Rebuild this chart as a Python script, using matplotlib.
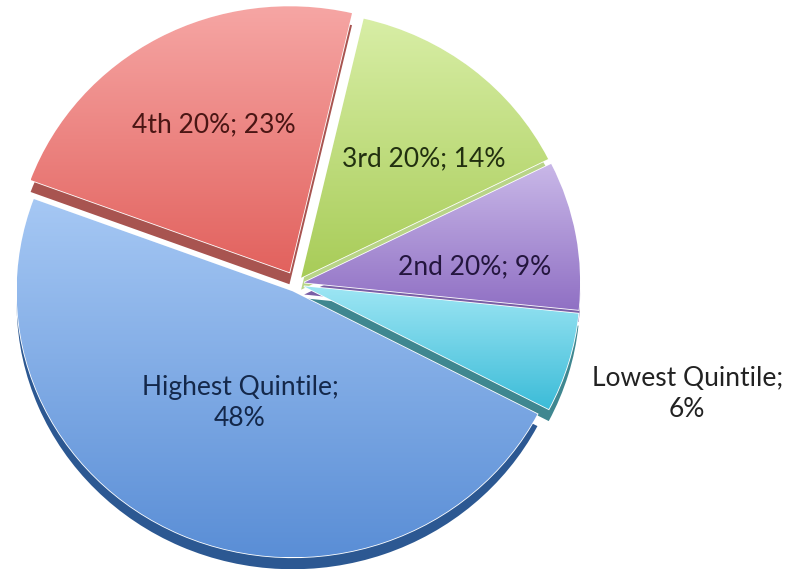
import numpy as np
import matplotlib.pyplot as plt
from matplotlib.colors import LinearSegmentedColormap

# slices in counter-clockwise order, starting at the right
labels = ['Lowest Quintile', '2nd 20%', '3rd 20%', '4th 20%', 'Highest Quintile']
shares = [6, 9, 14, 23, 48]
label_text = ['Lowest Quintile;\n6%', '2nd 20%; 9%', '3rd 20%; 14%',
              '4th 20%; 23%', 'Highest Quintile;\n48%']

top_light = ['#9ee6f4', '#c9b8e8', '#d8eea6', '#f6a6a4', '#a6c8f4']
top_dark = ['#3cbcd8', '#9070c4', '#a8cc58', '#e2625e', '#5a8ed6']
side_col = ['#3f8790', '#7a5fa6', '#b8d488', '#a85450', '#2c5892']
text_col = ['#222222', '#24163e', '#223010', '#4a1614', '#14284a']
label_pos = [(1.417, -0.414), (0.649, 0.064), (0.464, 0.47),
             (-0.297, 0.598), (-0.203, -0.447)]

fig = plt.figure(figsize=(7.88, 5.69), dpi=100)
ax = fig.add_axes([0, 0, 1, 1])

expl = [0.03, 0.03, 0.03, 0.05, 0.03]
depth = 0.045
start = -27.5

# side faces (drawn shifted down, underneath)
ax.pie(shares, startangle=start, counterclock=True, explode=expl,
       colors=side_col, center=(0, -depth),
       wedgeprops=dict(linewidth=0, zorder=1))

# top faces
wedges, _ = ax.pie(shares, startangle=start, counterclock=True, explode=expl,
                   colors=top_dark,
                   wedgeprops=dict(linewidth=1.2, edgecolor='white', zorder=2))

grad = np.linspace(0, 1, 256).reshape(-1, 1)
for w, c1, c2 in zip(wedges, top_light, top_dark):
    cx, cy = w.center
    th = np.radians(np.linspace(w.theta1, w.theta2, 60))
    xs = np.r_[cx, cx + w.r * np.cos(th)]
    ys = np.r_[cy, cy + w.r * np.sin(th)]
    cmap = LinearSegmentedColormap.from_list('g', [c1, c2])
    im = ax.imshow(grad, cmap=cmap, aspect='auto', zorder=3,
                   extent=(xs.min(), xs.max(), ys.min(), ys.max()))
    im.set_clip_path(w)

for t, (x, y), c in zip(label_text, label_pos, text_col):
    ax.text(x, y, t, ha='center', va='center', fontsize=19, color=c,
            family=['Lato', 'DejaVu Sans'], linespacing=1.3, zorder=5)

# pie is a bit wider than tall in the reference
ax.set_aspect('auto')
ax.set_xlim(-296 / 276, 492 / 276)
ax.set_ylim(-285 / 266, 284 / 266)
ax.axis('off')

fig.savefig('out.png', dpi=100)
